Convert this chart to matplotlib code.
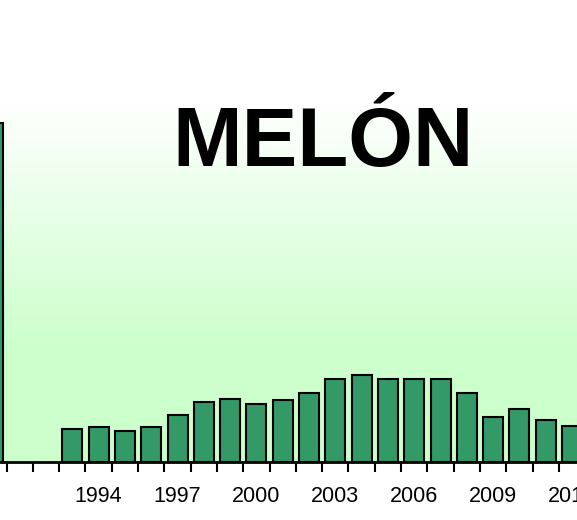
import numpy as np
import matplotlib.pyplot as plt
from matplotlib.colors import LinearSegmentedColormap

# Superficie de melón por campaña (sin dato en 1991 y 1992)
years = list(range(1990, 2013))
values = [339, 0, 0, 33, 35, 31, 35, 47, 60, 63, 58, 62, 69,
          83, 87, 83, 83, 83, 69, 45, 53, 42, 36]
label_years = [1994, 1997, 2000, 2003, 2006, 2009, 2012]

plt.rcParams['font.family'] = ['Liberation Sans', 'DejaVu Sans']


def main():
    fig = plt.figure(figsize=(5.77, 5.2), dpi=100)
    ax = fig.add_axes([0, 0.1115, 1, 0.6962])

    # fondo degradado blanco -> verde claro
    cmap = LinearSegmentedColormap.from_list(
        "fondo", [(0, "#ccffcc"), (0.31, "#ccffcc"), (1, "#ffffff")])
    grad = np.linspace(0, 1, 256).reshape(-1, 1)
    ax.imshow(grad, cmap=cmap, aspect='auto', origin='lower',
              extent=[0, 1, 0, 1], transform=ax.transAxes, zorder=0)

    xs = [y for y, v in zip(years, values) if v > 0]
    hs = [v for v in values if v > 0]
    ax.bar(xs, hs, width=0.76, color="#339966", edgecolor="black",
           linewidth=1.5, zorder=2)

    for s in ["top", "left", "right"]:
        ax.spines[s].set_visible(False)
    ax.spines["bottom"].set_linewidth(2)
    ax.spines["bottom"].set_zorder(3)

    ax.set_xticks([y + 0.5 for y in years])
    ax.tick_params(axis="x", which="major", length=7, width=1.5,
                   labelbottom=False)
    ax.set_xticks(label_years, minor=True)
    ax.set_xticklabels([str(y) for y in label_years], minor=True)
    ax.tick_params(axis="x", which="minor", length=0, pad=17,
                   labelsize=15.5)
    ax.set_yticks([])

    # limites despues de los ticks para que no se amplien
    ax.set_xlim(1990.25, 2012.19)
    ax.set_ylim(0, 362)

    fig.text(0.56, 0.681, "MELÓN", fontsize=60, fontweight="bold",
             ha="center", va="baseline")

    fig.savefig("out.png", dpi=100)


if __name__ == "__main__":
    main()
